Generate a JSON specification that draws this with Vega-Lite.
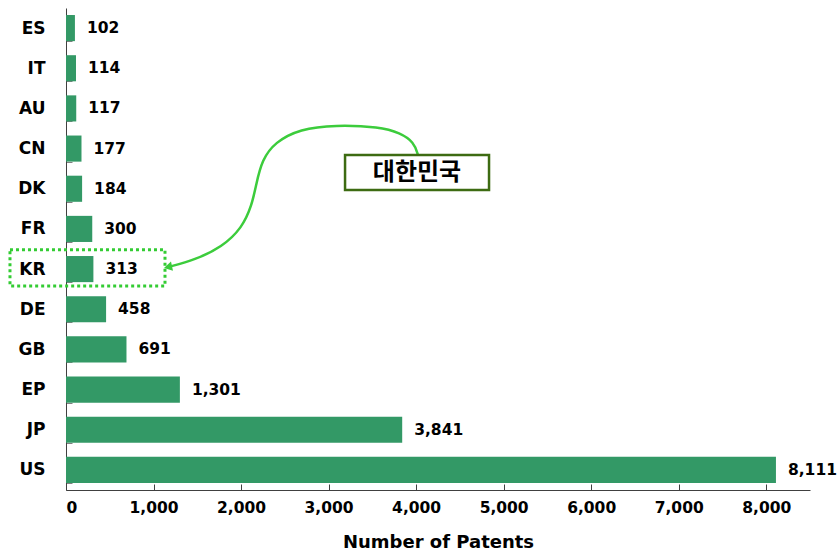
{
  "$schema": "https://vega.github.io/schema/vega-lite/v6.json",
  "width": 744,
  "height": 482,
  "autosize": {"type": "none"},
  "padding": {"left": 66, "top": 8, "right": 27, "bottom": 64},
  "background": "white",
  "config": {
    "view": {"stroke": null},
    "font": "DejaVu Sans",
    "axisX": {
      "grid": false,
      "domainColor": "#404040",
      "tickColor": "#404040",
      "tickSize": -6,
      "labelPadding": 16,
      "labelFontSize": 15.5,
      "labelFontWeight": "bold",
      "labelColor": "black",
      "titleFontSize": 18,
      "titleFontWeight": "bold",
      "titleColor": "black",
      "titlePadding": 18
    }
  },
  "datasets": {
    "patents": [
      {"country": "ES", "patents": 102},
      {"country": "IT", "patents": 114},
      {"country": "AU", "patents": 117},
      {"country": "CN", "patents": 177},
      {"country": "DK", "patents": 184},
      {"country": "FR", "patents": 300},
      {"country": "KR", "patents": 313},
      {"country": "DE", "patents": 458},
      {"country": "GB", "patents": 691},
      {"country": "EP", "patents": 1301},
      {"country": "JP", "patents": 3841},
      {"country": "US", "patents": 8111}
    ],
    "curve": [
      {"i": 0, "x": 4021, "y": 3.66},
      {"i": 1, "x": 3976, "y": 3.34},
      {"i": 2, "x": 3816, "y": 3.11},
      {"i": 3, "x": 3587, "y": 2.96},
      {"i": 4, "x": 3073, "y": 2.91},
      {"i": 5, "x": 2673, "y": 3.01},
      {"i": 6, "x": 2388, "y": 3.34},
      {"i": 7, "x": 2239, "y": 3.78},
      {"i": 8, "x": 2171, "y": 4.41},
      {"i": 9, "x": 2125, "y": 4.9},
      {"i": 10, "x": 2011, "y": 5.48},
      {"i": 11, "x": 1782, "y": 5.95},
      {"i": 12, "x": 1474, "y": 6.27},
      {"i": 13, "x": 1165, "y": 6.45}
    ],
    "arrowhead": [{"x": 1165, "y": 6.45}],
    "krbox": [{"x": -640, "x2": 1131, "y": 6.02, "y2": 6.92}],
    "callout": [{"x": 3188, "x2": 4833, "y": 3.66, "y2": 4.53, "tx": 4010, "ty": 4.1, "label": "대한민국"}]
  },
  "layer": [
    {
      "data": {"name": "patents"},
      "encoding": {
        "y": {
          "field": "country",
          "type": "nominal",
          "sort": null,
          "scale": {"paddingInner": 0.35, "paddingOuter": 0.175},
          "axis": {
            "title": null,
            "domainColor": "#404040",
            "tickColor": "#808080",
            "tickSize": -6,
            "tickBand": "extent",
            "labelPadding": 27,
            "labelFontSize": 17,
            "labelFontWeight": "bold",
            "labelColor": "black"
          }
        },
        "x": {
          "field": "patents",
          "type": "quantitative",
          "scale": {"domain": [0, 8500], "nice": false},
          "axis": {"values": [0, 1000, 2000, 3000, 4000, 5000, 6000, 7000, 8000], "labelExpr": "format(datum.value, ',')", "title": "Number of Patents"}
        }
      },
      "layer": [
        {"mark": {"type": "bar", "color": "#339966"}},
        {
          "mark": {"type": "text", "align": "left", "dx": 12, "fontSize": 15.5, "fontWeight": "bold", "color": "black"},
          "encoding": {"text": {"field": "patents", "type": "quantitative", "format": ","}}
        }
      ]
    },
    {
      "layer": [
        {
          "data": {"name": "krbox"},
          "mark": {"type": "rect", "fill": null, "stroke": "#33cc33", "strokeWidth": 3, "strokeDash": [3, 3]},
          "encoding": {
            "x": {"field": "x", "type": "quantitative", "axis": {"values": [0, 1000, 2000, 3000, 4000, 5000, 6000, 7000, 8000], "labelExpr": "format(datum.value, ',')", "title": "Number of Patents"}},
            "x2": {"field": "x2"},
            "y": {"field": "y", "type": "quantitative", "scale": {"domain": [0, 12], "reverse": true, "nice": false, "zero": false}, "axis": null},
            "y2": {"field": "y2"}
          }
        },
        {
          "data": {"name": "curve"},
          "mark": {"type": "line", "interpolate": "basis", "color": "#3ccc3c", "strokeWidth": 2.5},
          "encoding": {
            "x": {"field": "x", "type": "quantitative", "axis": {"values": [0, 1000, 2000, 3000, 4000, 5000, 6000, 7000, 8000], "labelExpr": "format(datum.value, ',')", "title": "Number of Patents"}},
            "y": {"field": "y", "type": "quantitative", "axis": null},
            "order": {"field": "i"}
          }
        },
        {
          "data": {"name": "arrowhead"},
          "mark": {"type": "point", "shape": "triangle-left", "filled": true, "color": "#3ccc3c", "size": 90, "opacity": 1, "angle": -12},
          "encoding": {
            "x": {"field": "x", "type": "quantitative", "axis": {"values": [0, 1000, 2000, 3000, 4000, 5000, 6000, 7000, 8000], "labelExpr": "format(datum.value, ',')", "title": "Number of Patents"}},
            "y": {"field": "y", "type": "quantitative", "axis": null}
          }
        },
        {
          "data": {"name": "callout"},
          "mark": {"type": "rect", "fill": "white", "stroke": "#3d6b12", "strokeWidth": 2.5},
          "encoding": {
            "x": {"field": "x", "type": "quantitative", "axis": {"values": [0, 1000, 2000, 3000, 4000, 5000, 6000, 7000, 8000], "labelExpr": "format(datum.value, ',')", "title": "Number of Patents"}},
            "x2": {"field": "x2"},
            "y": {"field": "y", "type": "quantitative", "axis": null},
            "y2": {"field": "y2"}
          }
        },
        {
          "data": {"name": "callout"},
          "mark": {"type": "text", "font": "Noto Sans CJK KR", "fontSize": 24, "fontWeight": "bold", "color": "black", "align": "center", "baseline": "middle"},
          "encoding": {
            "x": {"field": "tx", "type": "quantitative", "axis": {"values": [0, 1000, 2000, 3000, 4000, 5000, 6000, 7000, 8000], "labelExpr": "format(datum.value, ',')", "title": "Number of Patents"}},
            "y": {"field": "ty", "type": "quantitative", "axis": null},
            "text": {"field": "label"}
          }
        }
      ]
    }
  ],
  "resolve": {"scale": {"y": "independent"}}
}
